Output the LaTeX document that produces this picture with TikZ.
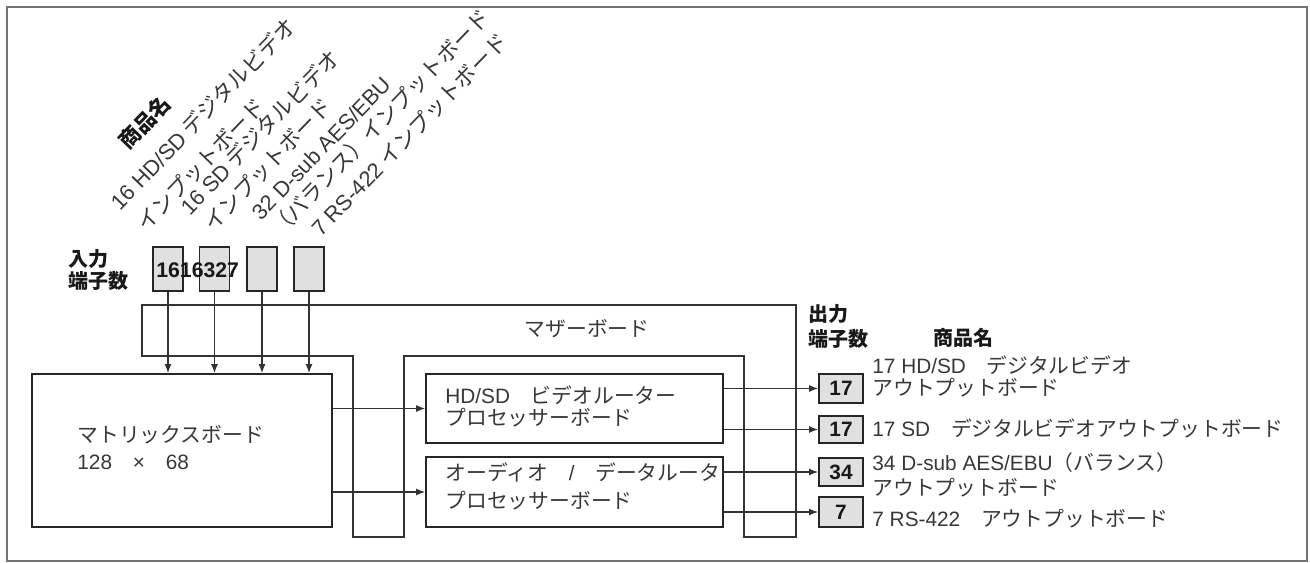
\documentclass[tikz,border=0pt]{standalone}
\usepackage{fontspec}
\setmainfont{Noto Sans CJK JP}
\newfontfamily\lat{Liberation Sans}
\usetikzlibrary{arrows.meta}
\begin{document}
\begin{tikzpicture}[x=0.5pt,y=-0.5pt,
  txt/.style={font=\fontsize{10.4}{12}\selectfont, text=black!78, inner sep=0pt},
  btxt/.style={font=\fontsize{10}{11}\selectfont\bfseries, text=black!90, inner sep=0pt, align=left},
  board/.style={draw=black!85, line width=0.8pt, fill=white},
  port/.style={draw=black!85, line width=0.8pt, fill=black!12, inner sep=0pt},
  arr/.style={draw=black!80, line width=0.6pt, -{Latex[length=4.5pt,width=3.4pt]}},
  rlab/.style={txt, rotate=46, anchor=base west, font=\fontsize{10.9}{12}\selectfont},
  frame/.style={draw=black!55, line width=1pt}]
\useasboundingbox (0,0) rectangle (1310,562);
\draw[frame] (7,7) rectangle (1307,561);

% rotated product names (inputs)
\node[rlab, font=\fontsize{10.6}{12}\selectfont\bfseries, text=black!90] (inhead) at (128,151) {商品名};
\node[rlab] (in1a) at (120,212) {{\lat 16 HD/SD} デジタルビデオ};
\node[rlab] (in1b) at (146,233) {インプットボード};
\node[rlab] (in2a) at (190,217) {{\lat 16 SD} デジタルビデオ};
\node[rlab] (in2b) at (213,233) {インプットボード};
\node[rlab] (in3a) at (261,222) {\lat 32 D-sub AES/EBU};
\node[rlab] (in3b) at (280,238) {（バランス）インプットボード};
\node[rlab] (in4a) at (321,238) {{\lat 7 RS-422} インプットボード};

% input ports
\node[btxt, anchor=west] (inlab) at (68,270) {入力\\端子数};
\node[port, minimum width=15pt, minimum height=22pt] (in1) at (168,269) {};
\node[port, minimum width=15pt, minimum height=22pt] (in2) at (214.5,269) {};
\node[port, minimum width=15pt, minimum height=22pt] (in3) at (262,269) {};
\node[port, minimum width=15pt, minimum height=22pt] (in4) at (309,269) {};
\node[btxt, anchor=west, font=\fontsize{10.6}{11}\selectfont\bfseries\lat] (incount) at (156,270) {1616327};

% mother board
\draw[draw=black!80, line width=0.6pt] (142,305) -- (796,305) -- (796,537) -- (744,537) -- (744,356) -- (404,356) -- (404,537) -- (353,537) -- (353,356) -- (142,356) -- cycle;
\node[txt] (mblab) at (587,329) {マザーボード};

% matrix board
\node[board, minimum width=150pt, minimum height=76.5pt] (mat) at (182,450.5) {};
\node[txt, anchor=west, align=left, font=\fontsize{10.4}{13.5}\selectfont] (matlab) at (77,448) {マトリックスボード\\{\lat 128}　{\lat ×}　{\lat 68}};

% processor boards
\node[board, minimum width=148.5pt, minimum height=34.5pt] (hd) at (574.5,408.5) {};
\node[txt, anchor=west, align=left, font=\fontsize{10.4}{11}\selectfont] (hdlab) at (445,406) {{\lat HD/SD}　ビデオルーター\\プロセッサーボード};
\node[board, minimum width=148.5pt, minimum height=35pt] (au) at (574.5,492) {};
\node[txt, anchor=west, align=left, font=\fontsize{10.4}{14}\selectfont] (aulab) at (445,486) {オーディオ　{\lat /}　データルーター\\プロセッサーボード};

% output ports
\node[btxt, anchor=west, font=\fontsize{10}{12.5}\selectfont\bfseries] (outlab) at (808,326) {出力\\端子数};
\node[btxt, anchor=west] (outhead) at (933,338) {商品名};
\tikzset{onum/.style={port, minimum width=22pt, font=\fontsize{10.4}{12}\selectfont\bfseries\lat, text=black!90}}
\node[onum, minimum height=14.5pt] (out1) at (841,388.5) {17};
\node[onum, minimum height=13.5pt] (out2) at (841,429.5) {17};
\node[onum, minimum height=14pt] (out3) at (841,472) {34};
\node[onum, minimum height=15pt] (out4) at (841,512) {7};

\node[txt, anchor=west] (o1a) at (872,365) {{\lat 17 HD/SD}　デジタルビデオ};
\node[txt, anchor=west] (o1b) at (872,388) {アウトプットボード};
\node[txt, anchor=west] (o2) at (872,428) {{\lat 17 SD}　デジタルビデオアウトプットボード};
\node[txt, anchor=west] (o3a) at (872,463) {{\lat 34 D-sub AES/EBU}（バランス）};
\node[txt, anchor=west] (o3b) at (872,488) {アウトプットボード};
\node[txt, anchor=west] (o4) at (872,519) {{\lat 7 RS-422}　アウトプットボード};

% connectors
\foreach \i in {1,2,3,4} {\draw[arr] (in\i.south) -- (in\i.south |- mat.north);}
\draw[arr] (mat.east |- hd.west) -- (hd.west);
\draw[arr] (mat.east |- au.west) -- (au.west);
\draw[arr] (hd.east |- out1.west) -- (out1.west);
\draw[arr] (hd.east |- out2.west) -- (out2.west);
\draw[arr] (au.east |- out3.west) -- (out3.west);
\draw[arr] (au.east |- out4.west) -- (out4.west);
\end{tikzpicture}
\end{document}
